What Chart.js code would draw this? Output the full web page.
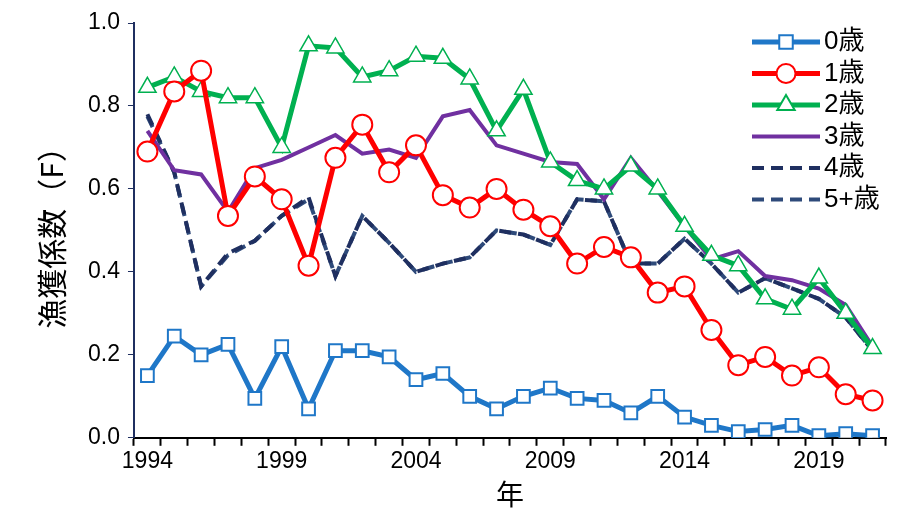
<!DOCTYPE html>
<html><head><meta charset="utf-8">
<script src="https://cdn.jsdelivr.net/npm/chart.js@4"></script>
<style>body{margin:0;background:#fff}#w{width:898px;height:523px}</style>
</head><body><div id="w"><canvas id="c"></canvas></div>
<script>
const years=[];for(let y=1994;y<=2021;y++)years.push(y);
const age0=[.15,.245,.20,.225,.095,.22,.07,.21,.21,.195,.14,.155,.10,.07,.10,.12,.095,.09,.06,.10,.05,.03,.015,.02,.03,.005,.01,.005];
const age1=[.69,.835,.885,.535,.63,.575,.415,.675,.755,.64,.705,.585,.555,.60,.55,.51,.42,.46,.435,.35,.365,.26,.175,.195,.15,.17,.105,.09];
const age2=[.845,.87,.835,.82,.82,.70,.945,.94,.87,.885,.92,.915,.865,.74,.84,.665,.62,.60,.655,.60,.51,.44,.415,.335,.31,.385,.30,.215];
const age3=[.74,.645,.635,.545,.65,.67,.70,.73,.685,.695,.675,.775,.79,.705,.685,.665,.66,.575,.675,.595,.51,.43,.45,.39,.38,.36,.32,.22];
const age4=[.78,.64,.365,.445,.475,.535,.58,.39,.535,.47,.40,.42,.435,.50,.49,.465,.575,.57,.42,.42,.48,.42,.35,.385,.36,.335,.29,.21];
const age5=[.775,.64,.365,.44,.475,.535,.575,.39,.535,.47,.40,.42,.435,.50,.49,.465,.575,.57,.42,.42,.48,.42,.35,.385,.36,.335,.29,.21];
const labels=['0歳','1歳','2歳','3歳','4歳','5+歳'];
const F='"Liberation Sans","Noto Sans CJK JP",sans-serif';
const FJ='"Noto Sans CJK JP",sans-serif';
const ds=[
 {label:labels[0],data:age0,borderColor:'#1f77c8',borderWidth:5,pointStyle:'rect',pointRadius:9,pointBackgroundColor:'#fff',pointBorderColor:'#1f77c8',pointBorderWidth:2},
 {label:labels[1],data:age1,borderColor:'#ff0000',borderWidth:5,pointStyle:'circle',pointRadius:10,pointBackgroundColor:'#fff',pointBorderColor:'#ff0000',pointBorderWidth:2},
 {label:labels[2],data:age2,borderColor:'#00b050',borderWidth:5,pointStyle:'triangle',pointRadius:10,pointBackgroundColor:'#fff',pointBorderColor:'#00b050',pointBorderWidth:1.5},
 {label:labels[3],data:age3,borderColor:'#7030a0',borderWidth:4,pointRadius:0},
 {label:labels[4],data:age4,borderColor:'#1f2f60',borderWidth:4,borderDash:[12,7],pointRadius:0},
 {label:labels[5],data:age5,borderColor:'#2e4a7a',borderWidth:4,borderDash:[12,7],pointRadius:0}
];
ds.forEach(d=>{d.fill=false;d.tension=0;});
const legendPlugin={id:'lg',afterDraw(ch){const c=ch.ctx;c.save();
 const x0=752,x1=820,tx=824;let y=42;
 ch.data.datasets.forEach((d,i)=>{c.strokeStyle=d.borderColor;c.lineWidth=d.borderWidth;c.setLineDash(d.borderDash||[]);
  c.beginPath();c.moveTo(x0,y);c.lineTo(x1,y);c.stroke();c.setLineDash([]);
  if(d.pointRadius){c.fillStyle='#fff';c.strokeStyle=d.borderColor;c.lineWidth=2;const m=(x0+x1)/2,r=d.pointRadius;c.beginPath();
   if(d.pointStyle==='rect'){c.rect(m-r*0.75,y-r*0.75,r*1.5,r*1.5);}
   else if(d.pointStyle==='circle'){c.arc(m,y,r*0.95,0,Math.PI*2);}
   else{c.moveTo(m,y-r);c.lineTo(m+r*0.87,y+r*0.5);c.lineTo(m-r*0.87,y+r*0.5);c.closePath();}
   c.fill();c.stroke();}
  c.fillStyle='#000';c.font='26px '+F;c.textBaseline='middle';c.fillText(d.label,tx,y);y+=31.5;});
 c.restore();}};
new Chart(document.getElementById('c'),{type:'line',data:{labels:years,datasets:ds},plugins:[legendPlugin],
options:{responsive:true,maintainAspectRatio:false,animation:false,layout:{padding:{top:23,right:4,left:34,bottom:12}},
plugins:{legend:{display:false},tooltip:{enabled:false}},
scales:{x:{offset:true,grid:{display:true,drawOnChartArea:false,color:'#000',tickLength:8,tickWidth:2,offset:true},border:{color:'#000',width:2},
 ticks:{autoSkip:false,maxRotation:0,color:'#000',font:{size:23,family:F},padding:2,callback:function(v,i){const y=years[i];return (y-1994)%5===0?String(y):'';}},
 title:{display:true,text:'年',color:'#000',font:{size:28,family:FJ},padding:{top:0,bottom:0}}},
 y:{min:0,max:1,ticks:{stepSize:0.2,color:'#000',font:{size:23,family:F},padding:8,callback:v=>v.toFixed(1)},grid:{display:true,drawOnChartArea:false,color:'#1f2f60',tickLength:6},border:{color:'#1f2f60',width:2},
 title:{display:true,text:'漁獲係数（F）',color:'#000',font:{size:30,family:FJ},padding:{top:0,bottom:10}}}}}});
</script></body></html>
